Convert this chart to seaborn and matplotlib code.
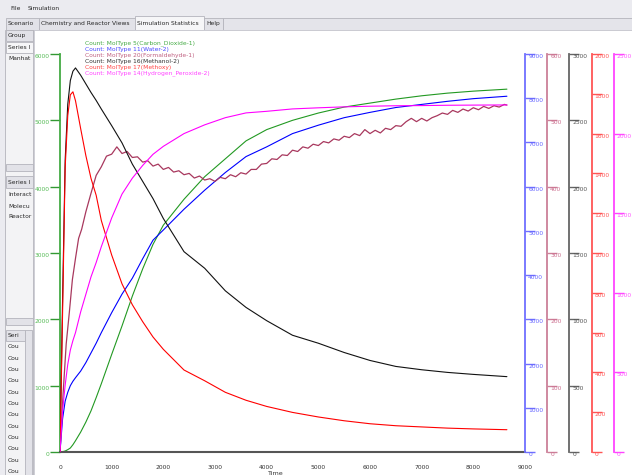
import matplotlib
matplotlib.use('Agg')
import matplotlib.pyplot as plt
import seaborn as sns
from matplotlib.patches import Rectangle

time = [0, 50, 100, 150, 200, 250, 300, 400, 500, 600, 700, 800, 1000, 1200, 1400,
        1600, 1800, 2000, 2400, 2800, 3200, 3600, 4000, 4500, 5000, 5500, 6000,
        6500, 7000, 7500, 8000, 8650]
co2 = [0, 5, 15, 35, 60, 110, 170, 300, 450, 620, 820, 1030, 1470, 1900, 2350,
       2760, 3130, 3420, 3810, 4150, 4420, 4690, 4860, 5000, 5110, 5200, 5260,
       5320, 5370, 5410, 5440, 5470]
water = [0, 750, 1150, 1350, 1500, 1600, 1680, 1830, 2020, 2240, 2460, 2700, 3150,
         3570, 3930, 4370, 4790, 5020, 5490, 5920, 6320, 6680, 6900, 7200, 7390,
         7560, 7680, 7790, 7860, 7930, 7990, 8045]
methanol = [0, 1150, 2200, 2620, 2800, 2870, 2895, 2840, 2775, 2710, 2650, 2585,
            2460, 2330, 2170, 2040, 1910, 1760, 1510, 1385, 1215, 1090, 990, 880,
            820, 750, 690, 645, 620, 600, 585, 568]
methoxy = [0, 700, 1430, 1690, 1795, 1810, 1765, 1625, 1490, 1375, 1290, 1163,
           990, 845, 740, 655, 578, 516, 412, 358, 300, 260, 229, 199, 176, 157,
           142, 132, 126, 120, 116, 112]
h2o2 = [0, 260, 420, 550, 640, 700, 750, 880, 990, 1100, 1190, 1290, 1470, 1620,
        1720, 1800, 1870, 1920, 2000, 2055, 2100, 2130, 2140, 2155, 2162, 2168,
        2172, 2175, 2176, 2178, 2179, 2180]

form_time = [0, 60, 120, 180, 240, 300, 360, 420, 500, 600, 700, 800, 900, 1000,
             1100, 1200, 1300, 1400, 1500, 1600, 1700, 1800, 1900, 2000, 2100,
             2200, 2300, 2400, 2500, 2600, 2700, 2800, 2900, 3000, 3100, 3200,
             3300, 3400, 3500, 3600, 3700, 3800, 3900, 4000, 4100, 4200, 4300,
             4400, 4500, 4600, 4700, 4800, 4900, 5000, 5100, 5200, 5300, 5400,
             5500, 5600, 5700, 5800, 5900, 6000, 6100, 6200, 6300, 6400, 6500,
             6600, 6700, 6800, 6900, 7000, 7100, 7200, 7300, 7400, 7500, 7600,
             7700, 7800, 7900, 8000, 8100, 8200, 8300, 8400, 8500, 8600, 8650]
formaldehyde = [0, 88, 163, 210, 260, 292, 322, 336, 362, 390, 417, 430, 446, 449,
                460, 450, 453, 444, 445, 437, 439, 431, 434, 426, 429, 422, 424,
                418, 420, 413, 416, 410, 412, 408, 414, 412, 418, 415, 421, 419,
                426, 426, 434, 435, 442, 441, 448, 447, 455, 453, 460, 458, 464,
                462, 468, 466, 472, 470, 476, 474, 480, 477, 486, 480, 485, 481,
                488, 486, 492, 491, 498, 503, 498, 503, 499, 504, 507, 511, 509,
                515, 512, 517, 514, 519, 516, 521, 518, 522, 520, 524, 523]

legend_labels = ['Count: MolType 5(Carbon_Dioxide-1)', 'Count: MolType 11(Water-2)',
                 'Count: MolType 20(Formaldehyde-1)', 'Count: MolType 16(Methanol-2)',
                 'Count: MolType 17(Methoxy)', 'Count: MolType 14(Hydrogen_Peroxide-2)']
legend_colors = ['#44aa44', '#4848ff', '#c06080', '#333333', '#ff4444', '#ff44ff']

x_ticks = [0, 1000, 2000, 3000, 4000, 5000, 6000, 7000, 8000, 9000]
co2_ticks = [0, 1000, 2000, 3000, 4000, 5000, 6000]

W, H = 632, 475
FS = 4.3

sns.set_style('white')
plt.rcParams['font.family'] = ['DejaVu Sans']

fig = plt.figure(figsize=(W / 100, H / 100), dpi=100, facecolor='#ebebf0')


def box(x0, y0, x1, y1, fc, ec='#b4b4bc', lw=0.6):
    fig.patches.append(Rectangle((x0 / W, 1 - y1 / H), (x1 - x0) / W, (y1 - y0) / H,
                                 transform=fig.transFigure, facecolor=fc,
                                 edgecolor=ec, lw=lw, zorder=-5))


def label(x, y, s, **kw):
    fig.text(x / W, 1 - y / H, s, fontsize=FS, va='center', **kw)


# window chrome: menu, tabs, left side lists
label(10, 9, 'File')
label(28, 9, 'Simulation')
tabs = [(6, 39, 'Scenario'), (39, 135, 'Chemistry and Reactor Views'),
        (135, 204, 'Simulation Statistics'), (204, 223, 'Help')]
box(223, 18, 632, 30, '#e4e4ea')
for x0, x1, name in tabs:
    sel = name == 'Simulation Statistics'
    box(x0, 16 if sel else 18, x1, 30, '#f6f6f8' if sel else '#e2e2e8')
    label(x0 + 2, 23.5, name)
box(34, 30, 632, 476, 'white', ec='#c8c8d0')
box(5, 30, 33, 476, '#f3f3f5')
box(6, 30, 33, 41, '#e2e2e8')
label(8, 35.5, 'Group')
box(6, 42, 33, 53, '#f6f6f8')
label(8, 47.5, 'Series I')
label(8, 59, 'Manhat')
box(6, 164, 33, 171, '#e2e2e8')
box(6, 176, 33, 188, '#e2e2e8')
label(8, 182, 'Series I')
for y, s in [(194, 'Interact'), (206, 'Molecu'), (217, 'Reactor')]:
    label(8, y, s)
box(6, 318, 33, 325, '#e2e2e8')
box(6, 330, 25, 341, '#e2e2e8')
label(8, 335.5, 'Seri')
box(25, 330, 32, 476, '#e2e2e8')
for k in range(12):
    label(8, 347 + 11.3 * k, 'Cou')

# main axes with the CO2 scale on the left
ax = fig.add_axes([60 / W, 23 / H, 465 / W, 398 / H])
ax.patch.set_alpha(0)
sns.lineplot(x=time, y=co2, ax=ax, color='#229922', linewidth=0.8)
ax.set_xlim(0, 9000)
ax.set_ylim(0, 6000)
ax.set_xticks(x_ticks)
ax.set_yticks(co2_ticks)
for side in ['top', 'right']:
    ax.spines[side].set_visible(False)
ax.spines['left'].set_color('#44aa44')
ax.spines['left'].set_linewidth(1.3)
ax.spines['bottom'].set_color('#555555')
ax.spines['bottom'].set_linewidth(1.5)
ax.tick_params(axis='x', direction='out', length=5.8, width=1.3, color='#555555',
               labelsize=FS, labelcolor='#333333', pad=3.5)
ax.tick_params(axis='y', direction='out', length=7, width=1, color='#339933',
               labelsize=FS, labelcolor='#55bb55', pad=0.5)
for lab in ax.get_yticklabels():
    lab.set_va('top')
ax.set_xlabel('Time', fontsize=FS + 0.3, color='#333333')
ax.xaxis.set_label_coords(215 / 465, -0.047)
ax.xaxis.label.set_va('top')
ax.set_ylabel('')

# one extra scale per series on the right
right_series = [
    (time, water, 9000, 1000, '#0000ff', '#7070ff', '#6666ff', 0),
    (form_time, formaldehyde, 600, 100, '#a8385e', '#cc8099', '#cc7090', 22),
    (time, methanol, 3000, 500, '#111111', '#666666', '#555555', 44),
    (time, methoxy, 2000, 200, '#ff0000', '#ff5555', '#ff5555', 66.5),
    (time, h2o2, 2500, 500, '#ff00ff', '#ff44ff', '#ff55ff', 88.5),
]
for xs, ys, top, step, line_c, axis_c, text_c, off in right_series:
    axt = ax.twinx()
    sns.lineplot(x=xs, y=ys, ax=axt, color=line_c,
                 linewidth=0.9 if ys is formaldehyde else 0.8)
    axt.set_xlim(0, 9000)
    axt.set_ylim(0, top)
    axt.set_yticks(list(range(0, top + 1, step)))
    for side in ['top', 'left', 'bottom']:
        axt.spines[side].set_visible(False)
    axt.spines['right'].set_position(('axes', 1 + off / 465))
    axt.spines['right'].set_color(axis_c)
    axt.spines['right'].set_linewidth(1.3)
    axt.tick_params(axis='y', direction='out', length=7, width=1, color=axis_c,
                    labelsize=FS, labelcolor=text_c, pad=-4.7)
    for lab in axt.get_yticklabels():
        lab.set_va('top')
    axt.set_ylabel('')

for i, (txt, c) in enumerate(zip(legend_labels, legend_colors)):
    label(85, 43 + 6.1 * i, txt, color=c)

fig.savefig('out.png', dpi=100, facecolor=fig.get_facecolor())
